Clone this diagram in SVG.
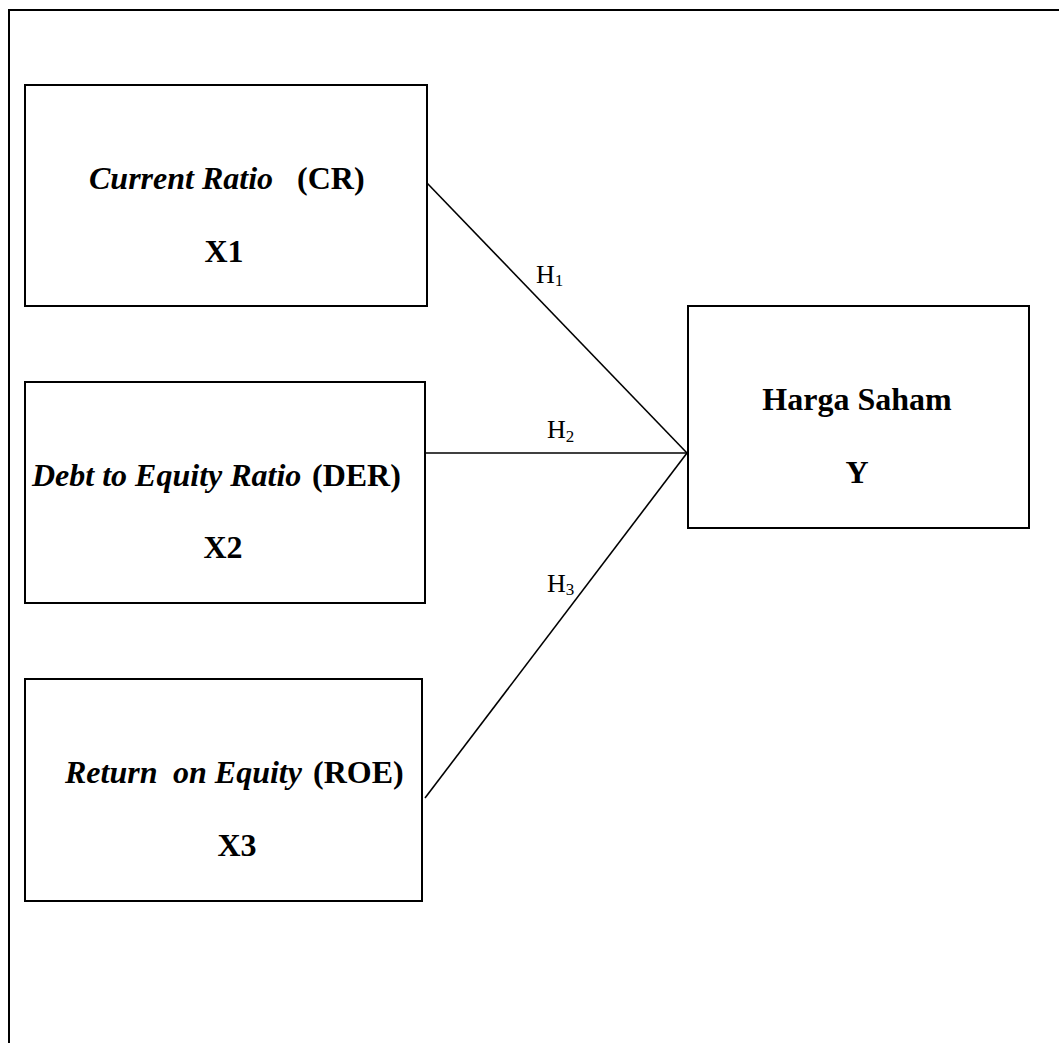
<svg xmlns="http://www.w3.org/2000/svg" width="1059" height="1043" viewBox="0 0 1059 1043">
<style>
.box{fill:none;stroke:#000;stroke-width:2}
.frame{fill:none;stroke:#000;stroke-width:2}
.conn{fill:none;stroke:#000;stroke-width:1.6}
.t{font-family:"Liberation Serif","Times New Roman",serif;font-size:32px;font-weight:bold;fill:#000}
.it{font-style:italic}
.h{font-family:"Liberation Serif","Times New Roman",serif;font-size:26px;fill:#000}
.sub{font-size:17px}
</style>
<rect width="1059" height="1043" fill="#fff"/>
<path class="frame" d="M9,1043 V10 H1059"/>
<g id="connectors">
<line class="conn" x1="427" y1="183" x2="687" y2="453"/>
<line class="conn" x1="425" y1="453" x2="687" y2="453"/>
<line class="conn" x1="425" y1="798" x2="687" y2="453"/>
<text class="h" x="536" y="283">H<tspan class="sub" dy="3">1</tspan></text>
<text class="h" x="547" y="438">H<tspan class="sub" dy="4">2</tspan></text>
<text class="h" x="547" y="592">H<tspan class="sub" dy="3">3</tspan></text>
</g>
<g id="node-x1">
<rect class="box" x="25" y="85" width="402" height="221"/>
<text class="t it" x="89" y="189">Current Ratio</text>
<text class="t" x="297" y="189">(CR)</text>
<text class="t" x="224" y="262" text-anchor="middle">X1</text>
</g>
<g id="node-x2">
<rect class="box" x="25" y="382" width="400" height="221"/>
<text class="t it" x="32" y="486">Debt to Equity Ratio</text>
<text class="t" x="312" y="486">(DER)</text>
<text class="t" x="223" y="558" text-anchor="middle">X2</text>
</g>
<g id="node-x3">
<rect class="box" x="25" y="679" width="397" height="222"/>
<text class="t it" x="65" y="783">Return</text>
<text class="t it" x="173" y="783">on Equity</text>
<text class="t" x="313" y="783">(ROE)</text>
<text class="t" x="237" y="856" text-anchor="middle">X3</text>
</g>
<g id="node-y">
<rect class="box" x="688" y="306" width="341" height="222"/>
<text class="t" x="857" y="410" text-anchor="middle">Harga Saham</text>
<text class="t" x="857" y="483" text-anchor="middle">Y</text>
</g>
</svg>
